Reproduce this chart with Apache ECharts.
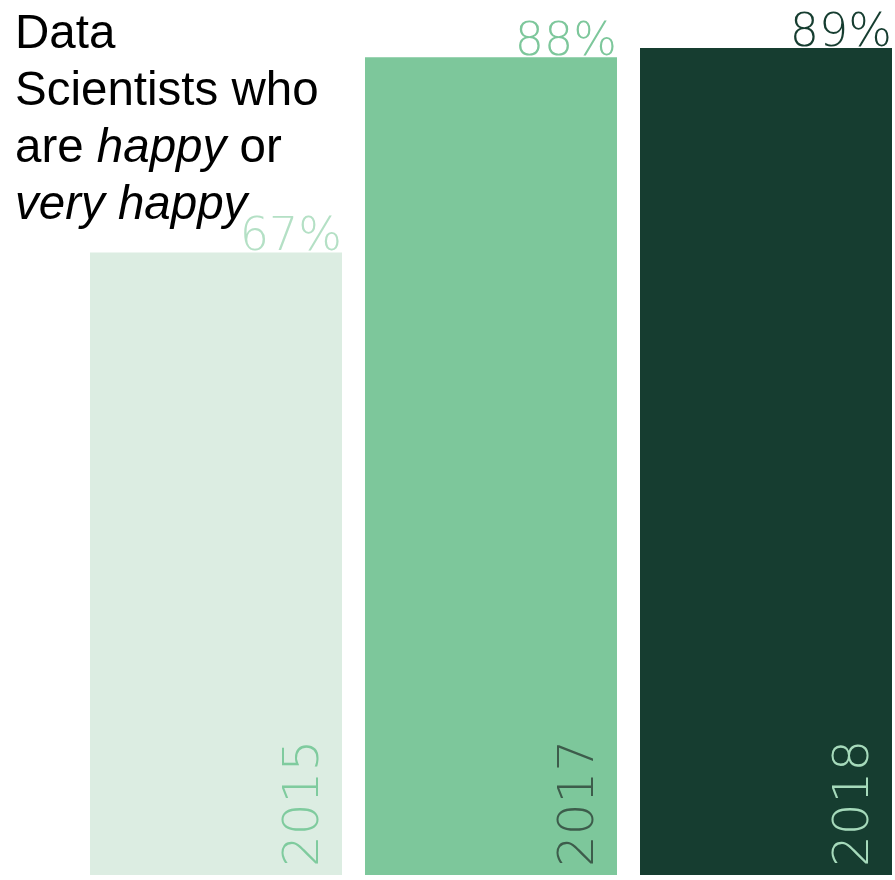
<!DOCTYPE html>
<html>
<head>
<meta charset="utf-8">
<script src="https://cdn.jsdelivr.net/npm/echarts@6/dist/echarts.min.js"></script>
<style>html,body{margin:0;padding:0;background:#fff}#c{width:895px;height:880px}</style>
</head>
<body>
<div id="c"></div>
<script>
const years = ['2015', '2017', '2018'];
const happyPct = [67, 88, 89];
const barColors = ['#DCEDE2', '#7DC79B', '#163D30'];
const pctColors = ['#B4E0C5', '#7DC79B', '#163D30'];
const yearColors = ['#7FCB9E', '#3D5C4B', '#A6DABB'];

const chart = echarts.init(document.getElementById('c'));
chart.setOption({
  animation: false,
  backgroundColor: '#ffffff',
  title: {
    text: 'Data\nScientists who\nare {i|happy} or\n{i|very happy}',
    left: 10, top: 1,
    textStyle: {
      fontFamily: 'Liberation Sans, Arial, sans-serif',
      fontSize: 47.5, fontWeight: 'normal', color: '#000', lineHeight: 57,
      rich: { i: { fontStyle: 'italic', fontFamily: 'Liberation Sans, Arial, sans-serif', fontSize: 47.5, color: '#000', lineHeight: 57 } }
    }
  },
  grid: { left: 216, right: 129, top: 48, bottom: 5 },
  xAxis: { type: 'category', data: years, show: false, boundaryGap: false },
  yAxis: { type: 'value', min: 0, max: 89, show: false },
  series: [
    {
      type: 'bar', barWidth: 252, clip: false,
      data: happyPct.map((v, i) => ({
        value: v,
        itemStyle: { color: barColors[i] },
        label: { color: pctColors[i] }
      })),
      label: {
        show: true, position: ['100%', 0], align: 'right', verticalAlign: 'bottom',
        offset: [0, 9], fontFamily: 'DejaVu Sans, sans-serif', fontWeight: 200, fontSize: 46,
        formatter: p => p.value + '%'
      }
    },
    {
      type: 'bar', barWidth: 252, barGap: '-100%', clip: false,
      data: happyPct.map((v, i) => ({
        value: v,
        itemStyle: { color: 'rgba(0,0,0,0)' },
        label: { color: yearColors[i] }
      })),
      label: {
        show: true, position: ['100%', '100%'], offset: [8, -37], rotate: 90,
        align: 'left', verticalAlign: 'middle',
        fontFamily: 'DejaVu Sans, sans-serif', fontWeight: 200, fontSize: 50,
        formatter: p => p.name
      }
    }
  ]
});
</script>
</body>
</html>
